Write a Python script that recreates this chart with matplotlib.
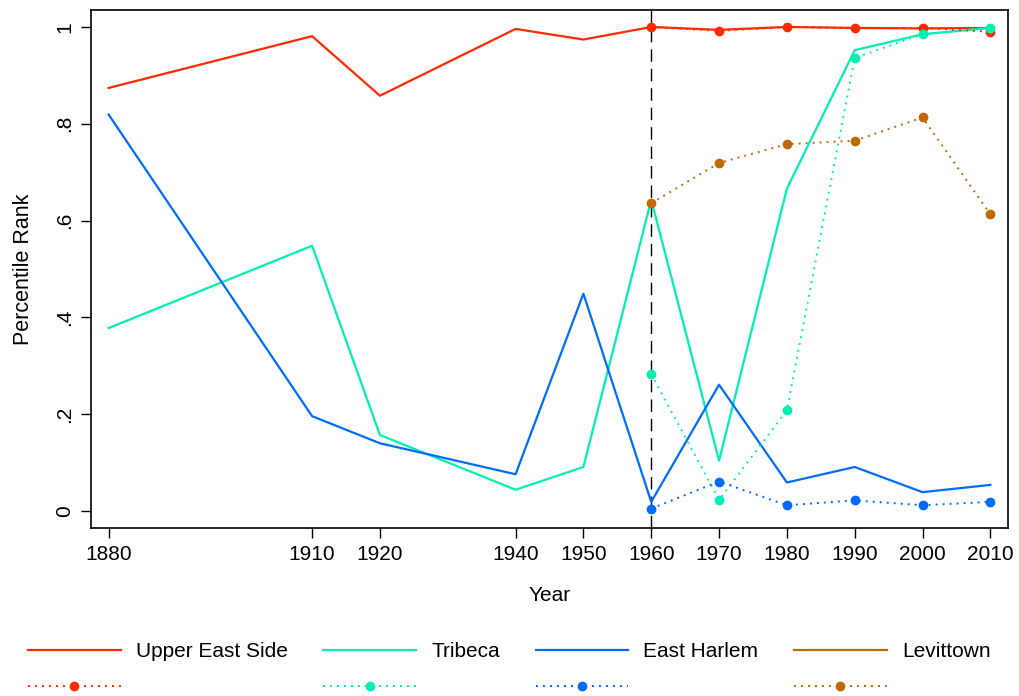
import matplotlib
matplotlib.use("Agg")
import matplotlib.pyplot as plt
from matplotlib.lines import Line2D

plt.rcParams['font.family'] = ['Liberation Sans', 'DejaVu Sans']

# anos com dados completos (linha cheia)
anos = [1880, 1910, 1920, 1940, 1950, 1960, 1970, 1980, 1990, 2000, 2010]
# anos da série pontilhada
anos_pont = [1960, 1970, 1980, 1990, 2000, 2010]

upper_east = [0.874, 0.981, 0.858, 0.996, 0.974, 1.0, 0.994, 1.0, 0.998, 0.997, 0.998]
tribeca = [0.378, 0.548, 0.157, 0.044, 0.091, 0.643, 0.104, 0.666, 0.952, 0.985, 0.998]
east_harlem = [0.819, 0.196, 0.140, 0.076, 0.449, 0.019, 0.261, 0.059, 0.091, 0.039, 0.054]

upper_east_pont = [1.0, 0.992, 1.0, 0.998, 0.998, 0.990]
tribeca_pont = [0.283, 0.023, 0.208, 0.936, 0.985, 0.998]
east_harlem_pont = [0.005, 0.061, 0.012, 0.022, 0.012, 0.019]
levittown_pont = [0.636, 0.719, 0.758, 0.765, 0.813, 0.613]

nomes = ['Upper East Side', 'Tribeca', 'East Harlem', 'Levittown']
cores = ['#ff2a00', '#00f0b4', '#006cff', '#bf6a06']

yticks = [0, 0.2, 0.4, 0.6, 0.8, 1]
ytick_labels = ['0', '.2', '.4', '.6', '.8', '1']

pontilhado = (0, (1, 2.6))

fig = plt.figure(figsize=(10.19, 6.96), dpi=100)
ax = fig.add_axes([0.0893, 0.2414, 0.8999, 0.7442])

cheias = [upper_east, tribeca, east_harlem, None]
pontos = [upper_east_pont, tribeca_pont, east_harlem_pont, levittown_pont]

ax.axvline(1960, color='black', linestyle=(0, (9, 5)), linewidth=1.0, zorder=1)

for i in range(4):
    if cheias[i] is not None:
        ax.plot(anos, cheias[i], color=cores[i], linewidth=1.6, zorder=2)
for i in range(4):
    ax.plot(anos_pont, pontos[i], color=cores[i], linewidth=1.4, linestyle=pontilhado,
            marker='o', markersize=6, zorder=3)

ax.set_xlim(1877.4, 2012.6)
ax.set_ylim(-0.035, 1.035)
ax.set_xticks(anos)
ax.set_yticks(yticks)
ax.set_yticklabels(ytick_labels, rotation=90, va='center')
ax.tick_params(direction='out', length=7, width=1.0, labelsize=15, pad=5)
ax.set_xlabel('Year', fontsize=15, labelpad=16)
ax.set_ylabel('Percentile Rank', fontsize=15.5, labelpad=15)
for s in ['top', 'bottom', 'left', 'right']:
    ax.spines[s].set_linewidth(1.2)

# legenda: linha cheia em cima, pontilhada embaixo
handles = []
labels = []
for i in range(4):
    handles.append(Line2D([], [], color=cores[i], linewidth=1.6))
    labels.append(nomes[i])
    handles.append(Line2D([], [], color=cores[i], linewidth=1.4, linestyle=pontilhado,
                          marker='o', markersize=6))
    labels.append(' ')
fig.legend(handles, labels, ncol=4, loc='upper left', bbox_to_anchor=(0.009, 0.1043),
           bbox_transform=fig.transFigure, frameon=False, fontsize=15,
           handlelength=4.45, handletextpad=0.72, columnspacing=1.72, labelspacing=0.8,
           numpoints=1)

fig.savefig('out.png', dpi=100)
